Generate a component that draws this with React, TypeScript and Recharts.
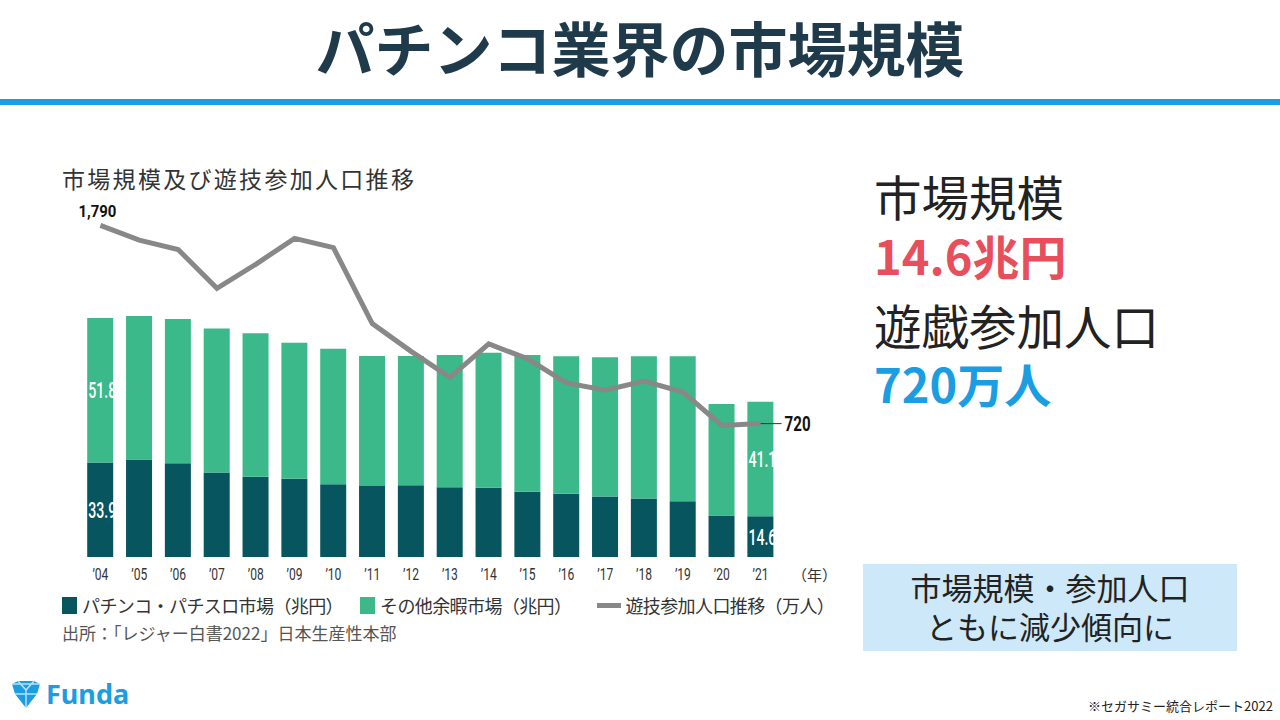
import { ComposedChart, Bar, Line, XAxis, YAxis, LabelList } from "recharts";

const years = ["’04", "’05", "’06", "’07", "’08", "’09", "’10", "’11", "’12", "’13", "’14", "’15", "’16", "’17", "’18", "’19", "’20", "’21"];
// パチンコ・パチスロ市場 (兆円)
const pachinko = [33.9, 35.0, 33.6, 30.3, 28.8, 28.1, 26.1, 25.5, 25.7, 25.0, 24.8, 23.4, 22.7, 21.7, 21.0, 20.0, 14.9, 14.6];
// その他余暇市場 (兆円)
const otherLeisure = [51.8, 51.4, 51.7, 51.6, 51.4, 48.7, 48.6, 46.6, 46.4, 47.4, 48.4, 49.0, 49.3, 49.9, 51.0, 52.0, 40.0, 41.1];
// 遊技参加人口 (万人)
const players = [1790, 1710, 1660, 1450, 1580, 1720, 1670, 1260, 1110, 970, 1150, 1070, 940, 900, 950, 890, 710, 720];

const data = years.map((y, i) => ({
  year: y,
  pachinko: pachinko[i],
  other: otherLeisure[i],
  players: players[i],
}));

const DARK = "#06555f";
const GREEN = "#3bb98a";
const GRAY = "#888888";
const BLUE = "#1b9de2";
const CJK = "'Noto Sans CJK JP', sans-serif";
const NUM = "'Roboto', 'DejaVu Sans', sans-serif";

// only first and last bars carry a value label
const barLabel = (props: any) => {
  const { x, y, width, height, index, value } = props;
  if (index !== 0 && index !== years.length - 1) return null;
  return (
    <text
      x={x + 1}
      y={y + height / 2}
      dy="0.36em"
      fill="#fff"
      fontFamily={NUM}
      fontWeight={500}
      fontSize={22}
      textLength={width + 2}
      lengthAdjust="spacingAndGlyphs"
    >
      {Number(value).toFixed(1)}
    </text>
  );
};

const lineLabel = (props: any) => {
  const { x, y, index, value } = props;
  if (index === 0) {
    return (
      <text x={x - 3} y={y - 8} textAnchor="middle" fill="#111" fontFamily={NUM} fontWeight={700} fontSize={17} textLength={38} lengthAdjust="spacingAndGlyphs">
        {value.toLocaleString("en-US")}
      </text>
    );
  }
  if (index === years.length - 1) {
    return (
      <g>
        <line x1={x} y1={y} x2={x + 21} y2={y} stroke="#333" strokeWidth={1} />
        <text x={x + 24} y={y} dy="0.36em" fill="#111" fontFamily={NUM} fontWeight={700} fontSize={20} textLength={26} lengthAdjust="spacingAndGlyphs">
          {value}
        </text>
      </g>
    );
  }
  return null;
};

const YearTick = (props: any) => {
  const { x, y, payload } = props;
  return (
    <text x={x} y={y} dy="0.8em" textAnchor="middle" fill="#333" fontFamily={NUM} fontSize={16} textLength={16} lengthAdjust="spacingAndGlyphs">
      {payload.value}
    </text>
  );
};

function Legend() {
  const item = { display: "flex", alignItems: "center" } as const;
  return (
    <div style={{ position: "absolute", left: 62, top: 592, display: "flex", fontSize: 18, color: "#333", fontFamily: CJK, letterSpacing: -0.6 }}>
      <div style={{ ...item, marginRight: 17 }}>
        <span style={{ width: 15, height: 17, background: DARK, marginRight: 5 }} />
        パチンコ・パチスロ市場（兆円）
      </div>
      <div style={{ ...item, marginRight: 26 }}>
        <span style={{ width: 15, height: 17, background: GREEN, marginRight: 5 }} />
        その他余暇市場（兆円）
      </div>
      <div style={item}>
        <span style={{ width: 24, height: 5, background: GRAY, marginRight: 4 }} />
        遊技参加人口推移（万人）
      </div>
    </div>
  );
}

function App() {
  const big = { position: "absolute", left: 874, fontSize: 47.5, lineHeight: "52px" } as const;
  return (
    <div style={{ position: "absolute", left: 0, top: 0, width: 1280, height: 720, background: "#fff", overflow: "hidden", fontFamily: CJK }}>
      <div style={{ position: "absolute", left: 0, top: 8, width: 1280, textAlign: "center", fontSize: 59, fontWeight: 700, color: "#1f3a4a", lineHeight: "78px" }}>
        パチンコ業界の市場規模
      </div>
      <div style={{ position: "absolute", left: 0, top: 99, width: 1280, height: 6, background: BLUE }} />

      <div style={{ position: "absolute", left: 62, top: 163, fontSize: 23, color: "#333", letterSpacing: 2.3, lineHeight: "30px" }}>
        市場規模及び遊技参加人口推移
      </div>

      <div style={{ position: "absolute", left: 0, top: 150 }}>
        <ComposedChart
          width={860}
          height={440}
          data={data}
          margin={{ top: 50, right: 80, bottom: 8, left: 81 }}
          barCategoryGap="16%"
        >
          <XAxis
            dataKey="year"
            axisLine={false}
            tickLine={false}
            height={25}
            tickMargin={4}
            interval={0}
            tick={<YearTick />}
          />
          <YAxis yAxisId="left" hide domain={[0, 128]} />
          <YAxis yAxisId="right" orientation="right" hide domain={[0, 1927]} />
          <Bar yAxisId="left" dataKey="pachinko" stackId="a" fill={DARK} isAnimationActive={false}>
            <LabelList dataKey="pachinko" content={barLabel} />
          </Bar>
          <Bar yAxisId="left" dataKey="other" stackId="a" fill={GREEN} isAnimationActive={false}>
            <LabelList dataKey="other" content={barLabel} />
          </Bar>
          <Line
            yAxisId="right"
            type="linear"
            dataKey="players"
            stroke={GRAY}
            strokeWidth={5}
            dot={false}
            isAnimationActive={false}
          >
            <LabelList dataKey="players" content={lineLabel} />
          </Line>
        </ComposedChart>
      </div>

      <div style={{ position: "absolute", left: 792, top: 564, fontSize: 15, color: "#333" }}>（年）</div>
      <Legend />
      <div style={{ position: "absolute", left: 62, top: 620, fontSize: 17, color: "#555" }}>
        出所：「レジャー白書2022」日本生産性本部
      </div>

      <div style={{ ...big, top: 170, color: "#222" }}>市場規模</div>
      <div style={{ ...big, top: 229, fontSize: 47, color: "#e84f5c", fontWeight: 700 }}>14.6兆円</div>
      <div style={{ ...big, top: 299, color: "#222" }}>遊戯参加人口</div>
      <div style={{ ...big, top: 357, fontSize: 47, color: BLUE, fontWeight: 700 }}>720万人</div>

      <div
        style={{
          position: "absolute",
          left: 863,
          top: 564,
          width: 374,
          height: 87,
          background: "#cde9f9",
          textAlign: "center",
          fontSize: 31,
          lineHeight: "39px",
          color: "#222",
          paddingTop: 3,
          boxSizing: "border-box",
        }}
      >
        市場規模・参加人口
        <br />
        ともに減少傾向に
      </div>

      <svg style={{ position: "absolute", left: 10, top: 680 }} width={32} height={30} viewBox="0 0 32 30">
        <path d="M2 4 L8 1 L24 1 L30 4 L27 14 L16 28 L5 14 Z" fill={BLUE} />
        <path d="M8 1 L16 10 L24 1 M2 4 L30 4 M5 14 L27 14 M16 10 L16 28" stroke="#fff" strokeWidth={1.5} fill="none" opacity={0.7} />
      </svg>
      <div style={{ position: "absolute", left: 46, top: 677, fontSize: 27, fontWeight: 700, color: BLUE, fontFamily: "'Noto Sans', sans-serif", lineHeight: "34px" }}>
        Funda
      </div>
      <div style={{ position: "absolute", left: 1088, top: 696, fontSize: 13, color: "#222" }}>※セガサミー統合レポート2022</div>
    </div>
  );
}

export default App;
